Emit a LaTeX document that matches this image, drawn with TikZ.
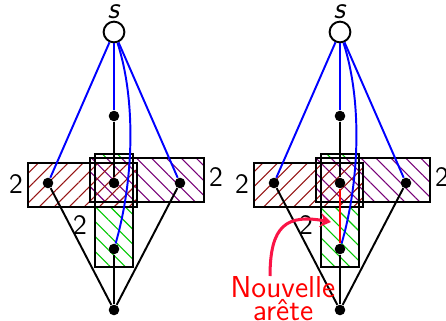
\documentclass[tikz,border=0pt]{standalone}
\usetikzlibrary{arrows.meta,patterns.meta}
\renewcommand{\familydefault}{\sfdefault}
\definecolor{newred}{RGB}{250,20,70}
\definecolor{boxred}{RGB}{150,20,20}
\definecolor{boxpurple}{RGB}{120,0,120}
\definecolor{boxgreen}{RGB}{0,200,0}

\begin{document}
\begin{tikzpicture}[x=0.463pt,y=-0.463pt,>={Stealth}]
  \tikzset{
    dot/.style={circle,fill,inner sep=0pt,minimum size=4.9pt},
    src/.style={circle,draw,line width=0.9pt,fill=white,inner sep=0pt,minimum size=9.6pt},
    blk/.style={line width=0.9pt},
    blu/.style={blue,line width=0.9pt},
    hatch/.style={pattern={Lines[angle=#1,distance=4.9pt,line width=0.5pt]}},
    box/.style={draw,line width=0.6pt},
    wt/.style={font=\fontsize{13pt}{15pt}\selectfont,inner sep=0pt},
  }
  \useasboundingbox (0,0) rectangle (446,321);
  \foreach \d/\dx in {L/0,R/226}{
    \begin{scope}[shift={(\dx,0)}]
      % hatched boxes
      \fill[hatch=-45,pattern color=boxgreen] (95,154) rectangle (133,267);
      \fill[white] (90,158) rectangle (204,202) (28,163) rectangle (137,207);
      \fill[hatch=-45,pattern color=boxpurple] (90,158) rectangle (204,202);
      \fill[hatch=45,pattern color=boxred] (28,163) rectangle (137,207);
      \draw[box] (95,154) rectangle (133,267);
      \draw[box] (90,158) rectangle (204,202);
      \draw[box] (28,163) rectangle (137,207);
      % vertices
      \node[src] (s\d) at (114,32){};
      \node[anchor=base,inner sep=0pt,font=\fontsize{14pt}{16pt}\selectfont] (sl\d) at (114,18.5){\textit{s}};
      \node[dot] (a\d) at (114,116){};
      \node[dot] (l\d) at (48,183){};
      \node[dot] (m\d) at (114,183){};
      \node[dot] (r\d) at (180,183){};
      \node[dot] (b\d) at (114,249){};
      \node[dot] (t\d) at (114,310){};
      \node[wt] (w1\d) at (16,184){2};
      \node[wt] (w2\d) at (216,177){2};
      \node[wt] (w3\d) at (80,225){2};
      % edges
      \draw[blu] (s\d)--(l\d); \draw[blu] (s\d)--(a\d); \draw[blu] (s\d)--(r\d);
      \draw[blu] (s\d) .. controls (136,100) and (134,180) .. (b\d);
      \draw[blk] (a\d)--(m\d); \draw[blk] (b\d)--(t\d);
      \draw[blk] (l\d)--(t\d); \draw[blk] (r\d)--(t\d);
    \end{scope}
  }
  % the new edge on the right
  \draw[red,line width=0.9pt] (mR)--(bR);
  \node[red,anchor=north,align=center,inner sep=0pt,font=\fontsize{14pt}{9.6pt}\selectfont] (nouv) at (283,276){Nouvelle\\ar\^ete};
  \coordinate (tip) at (331,222);
  \draw[newred,line width=1.4pt,-{Stealth[length=5pt,width=6.5pt]}] ([xshift=-6pt]nouv.north) .. controls (270,225) and (287,214) .. (tip);
\end{tikzpicture}
\end{document}
